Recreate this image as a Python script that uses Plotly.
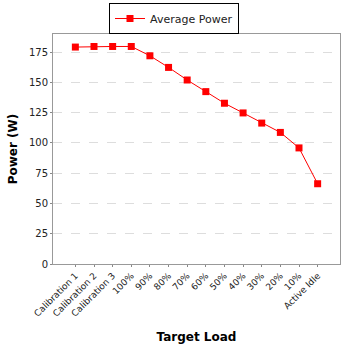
import plotly.graph_objects as go

categories = ["Calibration 1", "Calibration 2", "Calibration 3", "100%", "90%", "80%",
              "70%", "60%", "50%", "40%", "30%", "20%", "10%", "Active Idle"]
avg_power = [179.2, 179.7, 179.7, 179.7, 172.0, 162.4, 152.0, 142.4, 132.8, 124.8,
             116.4, 108.7, 95.9, 66.3]
y_ticks = [0, 25, 50, 75, 100, 125, 150, 175]

fig = go.Figure()
fig.add_trace(go.Scatter(
    x=categories, y=avg_power, mode="lines+markers", name="Average Power",
    line=dict(color="#ff0000", width=1),
    marker=dict(symbol="square", size=7, color="#ff0000"),
))

font = "DejaVu Sans"
fig.update_layout(
    width=348, height=348,
    margin=dict(l=53, r=8, t=27, b=84),
    paper_bgcolor="white", plot_bgcolor="white",
    font=dict(family=font, size=10, color="#333333"),
    showlegend=True,
    legend=dict(
        orientation="h", xref="container", yref="container",
        x=0.5, xanchor="center", y=1 - 3/348, yanchor="top",
        bordercolor="black", borderwidth=1, bgcolor="white",
        font=dict(family=font, size=11, color="#222222"),
        itemwidth=30, tracegroupgap=0,
    ),
    xaxis=dict(
        type="category", range=[-1.2, 14.2], automargin=False,
        tickangle=-45, ticks="outside", ticklen=2, tickcolor="#888888",
        showline=True, linecolor="#999999", mirror=True, showgrid=False,
        tickfont=dict(family=font, size=9, color="#222222"),
        title=dict(text="<b>Target Load</b>", font=dict(family=font, size=12, color="#000000"), standoff=15),
    ),
    yaxis=dict(
        range=[0, 190], tickvals=y_ticks, ticks="outside", ticklen=2, tickcolor="#888888",
        showline=True, linecolor="#999999", mirror=True, automargin=False,
        showgrid=True, gridcolor="#dddddd", griddash="dash", gridwidth=1,
        zeroline=False,
        tickfont=dict(family=font, size=10, color="#222222"),
        title=dict(text="<b>Power (W)</b>", font=dict(family=font, size=12, color="#000000"), standoff=8),
    ),
)

fig.write_html("out.html")
